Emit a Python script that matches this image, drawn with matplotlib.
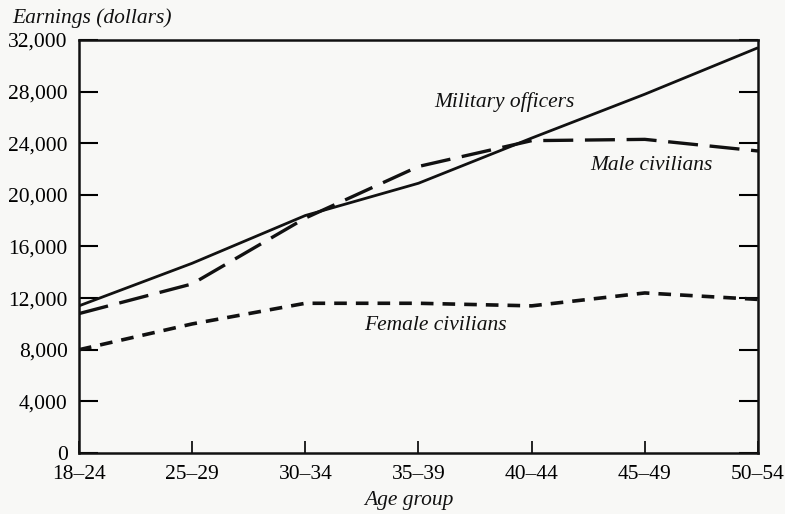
import numpy as np
import matplotlib.pyplot as plt

plt.rcParams['font.family'] = ['Liberation Serif', 'DejaVu Serif']

# values (dollars)
age_groups = ["18\u201324", "25\u201329", "30\u201334", "35\u201339", "40\u201344", "45\u201349", "50\u201354"]
military = [11400, 14700, 18400, 20900, 24400, 27800, 31400]
male_civ = [10800, 13100, 18200, 22200, 24200, 24300, 23400]
female_civ = [8000, 10000, 11600, 11600, 11400, 12400, 11900]
y_ticks = [0, 4000, 8000, 12000, 16000, 20000, 24000, 28000, 32000]

bg = '#f8f8f6'
fig = plt.figure(figsize=(7.85, 5.14), dpi=100, facecolor=bg)
ax = fig.add_axes([0.1006, 0.1187, 0.865, 0.8035], facecolor=bg)

x = np.arange(len(age_groups))
ax.plot(x, military, color='#111111', lw=2.0, solid_capstyle='butt')
ax.plot(x, male_civ, color='#111111', lw=2.4, dashes=(9, 3.5))
ax.plot(x, female_civ, color='#111111', lw=2.6, dashes=(3.5, 2.5))

ax.set_xlim(0, len(age_groups) - 1)
ax.set_ylim(0, 32000)
ax.set_xticks(x)
ax.set_xticklabels(age_groups)
ax.set_yticks(y_ticks)
ax.set_yticklabels(["{:,}".format(v) for v in y_ticks])

ax.tick_params(axis='y', direction='in', length=14, width=1.5, right=True, labelsize=15.5, pad=8)
ax.tick_params(axis='y', which='major', labelright=False)
ax.tick_params(axis='x', direction='in', length=9, width=1.2, labelsize=15.5, pad=9)
for s in ax.spines.values():
    s.set_linewidth(1.8)
    s.set_color('#111111')

kw = dict(fontsize=15.5, style='italic', color='#111111', ha='center', va='center')
ax.text(3.76, 27200, "Military officers", **kw)
ax.text(5.06, 22300, "Male civilians", **kw)
ax.text(3.15, 9900, "Female civilians", **kw)

fig.text(0.117, 0.965, "Earnings (dollars)", **kw)
fig.text(0.521, 0.027, "Age group", **kw)

plt.savefig("out.png", dpi=100, facecolor=bg)
